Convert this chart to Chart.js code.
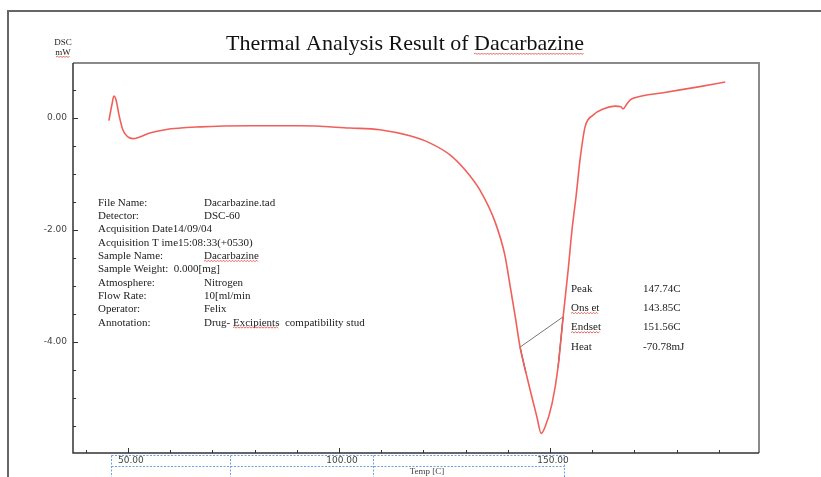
<!DOCTYPE html>
<html>
<head>
<meta charset="utf-8">
<script src="https://cdn.jsdelivr.net/npm/chart.js"></script>
<style>
    html, body { margin: 0; padding: 0; background: #fff; }
    #wrap { width: 821px; height: 477px; }
</style>
</head>
<body>
<div id="wrap"><canvas id="dscChart" width="821" height="477"></canvas></div>
<script>
// DSC trace (temperature in C, signal in mW)
const tempC = [
    45.5, 46.2, 46.7, 47.2, 47.9, 48.8, 50.0, 51.2, 52.8, 55.2,
    58.8, 67.1, 78.9, 90.8, 102.6, 109.7, 116.8, 121.6, 126.3, 129.9,
    133.4, 137.0, 139.3, 140.5, 141.7, 142.9, 144.3, 145.7, 146.9, 147.9,
    148.8, 150.5, 151.9, 153.1, 154.3, 155.2, 156.2, 157.1, 158.3, 160.2,
    162.6, 165.4, 166.8, 167.3, 168.2, 169.0, 170.1, 176.8, 184.8, 191.5
]
const dscMw = [
    -0.05, 0.23, 0.39, 0.32, 0.05, -0.21, -0.34, -0.37, -0.34, -0.27,
    -0.21, -0.16, -0.14, -0.14, -0.18, -0.21, -0.32, -0.45, -0.66, -0.93,
    -1.29, -1.86, -2.45, -2.98, -3.52, -4.09, -4.55, -4.98, -5.34, -5.63,
    -5.52, -5.09, -4.45, -3.55, -2.71, -2.00, -1.38, -0.75, -0.16, 0.05,
    0.16, 0.21, 0.20, 0.16, 0.25, 0.32, 0.36, 0.45, 0.55, 0.64
]

// onset / endset construction lines
const baseLineTemp = [142.9, 153.1]
const baseLineMw = [-4.09, -3.55]
const leftTangentTemp = [142.9, 144.3]
const leftTangentMw = [-4.09, -4.55]
const rightTangentTemp = [153.1, 151.9]
const rightTangentMw = [-3.55, -4.45]

// axes
const xMin = 37.0
const xMax = 199.5
const yMin = -5.98
const yMax = 0.98
const xMinorTicks = [40, 50, 60, 70, 80, 90, 100, 110, 120, 130, 140, 150, 160, 170, 180, 190]
const xLabelTicks = [50, 100, 150]
const yMinorTicks = [0.5, 0, -0.5, -1, -1.5, -2, -2.5, -3, -3.5, -4, -4.5, -5, -5.5]
const yLabelTicks = [0, -2, -4]

// text blocks
const titleText = 'Thermal Analysis Result of Dacarbazine'
const infoLabels = [
    'File Name:', 'Detector:', 'Acquisition Date14/09/04', 'Acquisition T ime15:08:33(+0530)',
    'Sample Name:', 'Sample Weight:  0.000[mg]', 'Atmosphere:', 'Flow Rate:', 'Operator:', 'Annotation:'
]
const infoValues = [
    'Dacarbazine.tad', 'DSC-60', '', '',
    'Dacarbazine', '', 'Nitrogen', '10[ml/min', 'Felix', 'Drug- Excipients  compatibility stud'
]
const peakLabels = ['Peak', 'Ons et', 'Endset', 'Heat']
const peakValues = ['147.74C', '143.85C', '151.56C', '-70.78mJ']

function toPoints(xs, ys) {
    return xs.map((x, i) => ({ x: x, y: ys[i] }))
}

function wavyLine(ctx, x0, x1, y) {
    ctx.save()
    ctx.strokeStyle = '#e0403a'
    ctx.lineWidth = 0.8
    ctx.beginPath()
    let up = true
    ctx.moveTo(x0, y)
    for (let x = x0 + 1.5; x <= x1; x += 1.5) {
        ctx.lineTo(x, up ? y - 1 : y + 0.5)
        up = !up
    }
    ctx.stroke()
    ctx.restore()
}

const pageDecor = {
    id: 'pageDecor',
    beforeDraw(chart) {
        const ctx = chart.ctx
        ctx.save()
        ctx.fillStyle = '#fff'
        ctx.fillRect(0, 0, chart.width, chart.height)

        // outer page frame
        ctx.strokeStyle = '#666'
        ctx.lineWidth = 2
        ctx.beginPath()
        ctx.moveTo(8, chart.height + 2)
        ctx.lineTo(8, 11)
        ctx.lineTo(chart.width + 2, 11)
        ctx.stroke()

        const area = chart.chartArea
        // top and right border of the plot box
        ctx.strokeStyle = '#8a8a8a'
        ctx.lineWidth = 2
        ctx.beginPath()
        ctx.moveTo(area.left, area.top)
        ctx.lineTo(area.right, area.top)
        ctx.lineTo(area.right, area.bottom)
        ctx.stroke()

        // left and bottom axis
        ctx.strokeStyle = '#333'
        ctx.lineWidth = 1.5
        ctx.beginPath()
        ctx.moveTo(area.left, area.top)
        ctx.lineTo(area.left, area.bottom)
        ctx.lineTo(area.right, area.bottom)
        ctx.stroke()

        const xs = chart.scales.x
        const ys = chart.scales.y
        ctx.lineWidth = 1
        ctx.beginPath()
        xMinorTicks.forEach(t => {
            const px = Math.round(xs.getPixelForValue(t)) + 0.5
            const len = xLabelTicks.includes(t) ? 5 : 3
            ctx.moveTo(px, area.bottom)
            ctx.lineTo(px, area.bottom - len)
        })
        yMinorTicks.forEach(v => {
            const py = Math.round(ys.getPixelForValue(v)) + 0.5
            const len = yLabelTicks.includes(v) ? 5 : 3
            ctx.moveTo(area.left, py)
            ctx.lineTo(area.left + len, py)
        })
        ctx.stroke()

        // dashed table under the x axis
        ctx.strokeStyle = '#6f9fe0'
        ctx.setLineDash([2, 1.5])
        ctx.lineWidth = 1
        ctx.beginPath()
        ctx.rect(111.5, 455.5, 453, 24)
        ctx.moveTo(111.5, 466.5)
        ctx.lineTo(564.5, 466.5)
        ctx.moveTo(230.5, 455.5)
        ctx.lineTo(230.5, 478)
        ctx.moveTo(373.5, 455.5)
        ctx.lineTo(373.5, 478)
        ctx.stroke()
        ctx.restore()
    },
    afterDraw(chart) {
        const ctx = chart.ctx
        const area = chart.chartArea
        const xs = chart.scales.x
        const ys = chart.scales.y
        ctx.save()

        // tick labels
        ctx.fillStyle = '#444'
        ctx.font = '9px "DejaVu Sans"'
        ctx.textBaseline = 'middle'
        ctx.textAlign = 'right'
        yLabelTicks.forEach(v => {
            ctx.fillText(v.toFixed(2), area.left - 6, ys.getPixelForValue(v))
        })
        ctx.textAlign = 'center'
        xLabelTicks.forEach(t => {
            ctx.fillText(t.toFixed(2), xs.getPixelForValue(t) + 3, 461)
        })
        ctx.font = '9px "Liberation Serif"'
        ctx.fillText('Temp [C]', 427, 472)

        // y unit
        ctx.fillStyle = '#222'
        ctx.font = '9px "Liberation Serif"'
        ctx.fillText('DSC', 63, 43)
        ctx.fillText('mW', 63, 53)
        wavyLine(ctx, 56, 70, 57)

        // title
        ctx.fillStyle = '#111'
        ctx.font = '22px "Liberation Serif"'
        ctx.textAlign = 'center'
        ctx.textBaseline = 'alphabetic'
        ctx.fillText(titleText, 405, 50)
        const titleW = ctx.measureText(titleText).width
        const darcW = ctx.measureText('Dacarbazine').width
        wavyLine(ctx, 405 + titleW / 2 - darcW, 405 + titleW / 2, 54)

        // sample information block
        ctx.font = '11px "Liberation Serif"'
        ctx.textAlign = 'left'
        ctx.textBaseline = 'middle'
        ctx.fillStyle = '#222'
        infoLabels.forEach((label, i) => {
            const y = 203 + i * 13.3
            ctx.fillText(label, 98, y)
            if (infoValues[i]) ctx.fillText(infoValues[i], 204, y)
        })
        wavyLine(ctx, 204, 204 + ctx.measureText(infoValues[4]).width, 203 + 4 * 13.3 + 5)
        const drugW = ctx.measureText('Drug- ').width
        wavyLine(ctx, 204 + drugW, 204 + drugW + ctx.measureText('Excipients').width, 203 + 9 * 13.3 + 5)

        // peak results
        peakLabels.forEach((label, i) => {
            const y = 289 + i * 19.3
            ctx.fillText(label, 571, y)
            ctx.fillText(peakValues[i], 643, y)
        })
        wavyLine(ctx, 571, 571 + ctx.measureText(peakLabels[1]).width, 289 + 19.3 + 5)
        wavyLine(ctx, 571, 571 + ctx.measureText(peakLabels[2]).width, 289 + 2 * 19.3 + 5)
        ctx.restore()
    }
}

new Chart(document.getElementById('dscChart'), {
    type: 'line',
    data: {
        datasets: [
            {
                label: 'DSC',
                data: toPoints(tempC, dscMw),
                borderColor: '#f0605a',
                borderWidth: 1.6,
                pointRadius: 0,
                cubicInterpolationMode: 'monotone'
            },
            {
                label: 'baseline',
                data: toPoints(baseLineTemp, baseLineMw),
                borderColor: '#777',
                borderWidth: 1,
                pointRadius: 0
            },
            {
                label: 'left tangent',
                data: toPoints(leftTangentTemp, leftTangentMw),
                borderColor: '#444',
                borderWidth: 1.2,
                pointRadius: 0
            },
            {
                label: 'right tangent',
                data: toPoints(rightTangentTemp, rightTangentMw),
                borderColor: '#444',
                borderWidth: 1.2,
                pointRadius: 0
            }
        ]
    },
    options: {
        responsive: false,
        devicePixelRatio: 1,
        animation: false,
        layout: { padding: { left: 73, top: 63, right: 62, bottom: 24 } },
        plugins: {
            legend: { display: false },
            tooltip: { enabled: false }
        },
        scales: {
            x: { type: 'linear', min: xMin, max: xMax, display: false },
            y: { type: 'linear', min: yMin, max: yMax, display: false }
        }
    },
    plugins: [pageDecor]
})
</script>
</body>
</html>
